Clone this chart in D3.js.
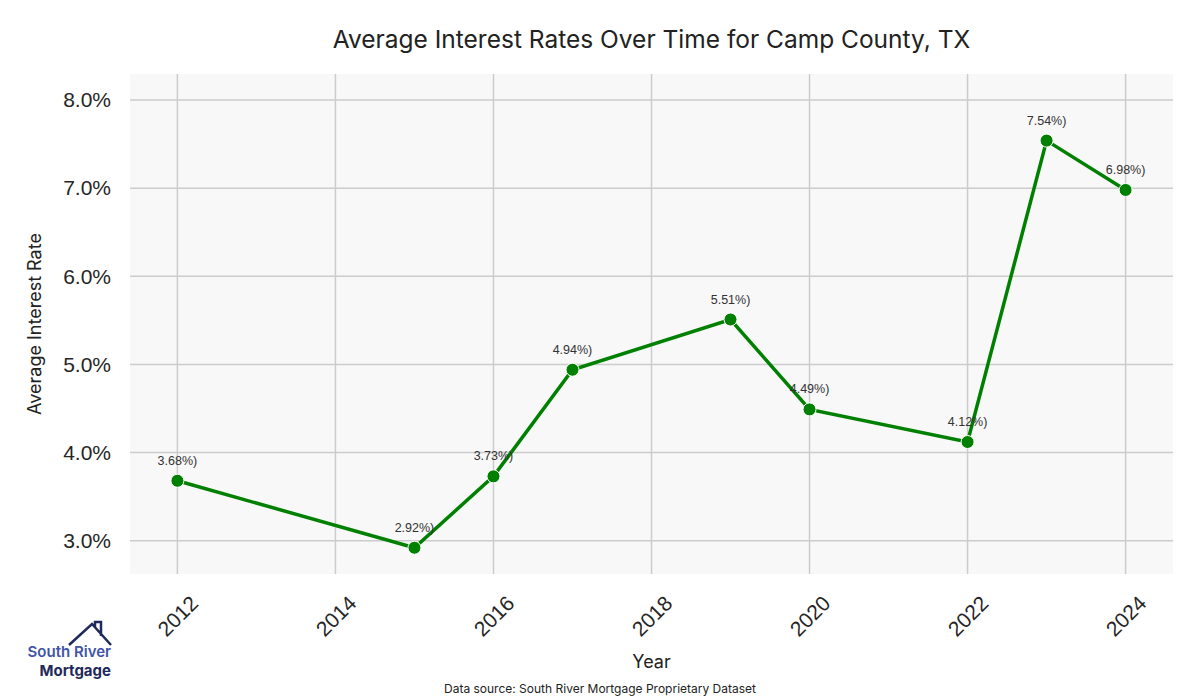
<!DOCTYPE html>
<html>
<head>
<meta charset="utf-8">
<script src="https://cdn.jsdelivr.net/npm/d3@7"></script>
<style>
  body { margin: 0; background: #fff; }
  svg { display: block; }
</style>
</head>
<body>
<div id="chart-area"></div>
<script>
var years = [2012, 2015, 2016, 2017, 2019, 2020, 2022, 2023, 2024];
var rates = [3.68, 2.92, 3.73, 4.94, 5.51, 4.49, 4.12, 7.54, 6.98];
var xTicks = [2012, 2014, 2016, 2018, 2020, 2022, 2024];
var yTicks = [3, 4, 5, 6, 7, 8];

var margin = {top: 74, right: 27, bottom: 126, left: 130};
var width = 1200 - margin.left - margin.right,
    height = 700 - margin.top - margin.bottom;

var data = years.map(function(d, i){ return {year: d, rate: rates[i]}; });

var x = d3.scaleLinear().domain([2011.4, 2024.6]).range([0, width]);
var y = d3.scaleLinear().domain([2.622, 8.296]).range([height, 0]);

var svg = d3.select("#chart-area").append("svg")
    .attr("width", 1200)
    .attr("height", 700);

var g = svg.append("g")
    .attr("transform", "translate(" + margin.left + "," + margin.top + ")");

g.append("rect")
    .attr("width", width)
    .attr("height", height)
    .attr("fill", "#f8f8f8");

// grid
g.selectAll(".vgrid").data(xTicks).enter().append("line")
    .attr("x1", function(d){ return x(d); })
    .attr("x2", function(d){ return x(d); })
    .attr("y1", 0).attr("y2", height)
    .attr("stroke", "#cccccc").attr("stroke-width", 1.5);

g.selectAll(".hgrid").data(yTicks).enter().append("line")
    .attr("y1", function(d){ return y(d); })
    .attr("y2", function(d){ return y(d); })
    .attr("x1", 0).attr("x2", width)
    .attr("stroke", "#cccccc").attr("stroke-width", 1.5);

// axes (ticks hidden, labels only)
var yAxis = g.append("g")
    .call(d3.axisLeft(y).tickValues(yTicks).tickSize(0).tickPadding(19)
      .tickFormat(function(d){ return d.toFixed(1) + "%"; }));
yAxis.select(".domain").remove();
yAxis.selectAll("text")
    .attr("font-family", "'Liberation Sans', Arial, sans-serif")
    .attr("font-size", "21px")
    .attr("fill", "#262626");

var xAxis = g.append("g")
    .attr("transform", "translate(0," + height + ")")
    .call(d3.axisBottom(x).tickValues(xTicks).tickSize(0).tickFormat(d3.format("d")));
xAxis.select(".domain").remove();
xAxis.selectAll("text")
    .attr("font-family", "'Liberation Sans', Arial, sans-serif")
    .attr("font-size", "21px")
    .attr("fill", "#262626")
    .attr("text-anchor", "middle")
    .attr("dy", "0.35em")
    .attr("y", 0)
    .attr("transform", "translate(0,42) rotate(-45)");

// line
var line = d3.line()
    .x(function(d){ return x(d.year); })
    .y(function(d){ return y(d.rate); });

g.append("path")
    .datum(data)
    .attr("d", line)
    .attr("fill", "none")
    .attr("stroke", "#008000")
    .attr("stroke-width", 3.5);

g.selectAll(".dot").data(data).enter().append("circle")
    .attr("cx", function(d){ return x(d.year); })
    .attr("cy", function(d){ return y(d.rate); })
    .attr("r", 6.5)
    .attr("fill", "#008000")
    .attr("stroke", "#ffffff")
    .attr("stroke-width", 1);

g.selectAll(".lbl").data(data).enter().append("text")
    .attr("x", function(d){ return x(d.year); })
    .attr("y", function(d){ return y(d.rate) - 16; })
    .attr("text-anchor", "middle")
    .attr("font-family", "'Liberation Sans', Arial, sans-serif")
    .attr("font-size", "12.5px")
    .attr("fill", "#333333")
    .text(function(d){ return d.rate.toFixed(2) + "%)"; });

// titles
svg.append("text")
    .attr("x", margin.left + width / 2)
    .attr("y", 48)
    .attr("text-anchor", "middle")
    .attr("font-family", "Inter, 'Noto Sans', sans-serif")
    .attr("font-size", "24.5px")
    .attr("fill", "#222")
    .text("Average Interest Rates Over Time for Camp County, TX");

svg.append("text")
    .attr("x", margin.left + width / 2)
    .attr("y", 668)
    .attr("text-anchor", "middle")
    .attr("font-family", "Inter, 'Noto Sans', sans-serif")
    .attr("font-size", "18px")
    .attr("fill", "#222")
    .text("Year");

svg.append("text")
    .attr("transform", "translate(41," + (margin.top + height / 2) + ") rotate(-90)")
    .attr("text-anchor", "middle")
    .attr("font-family", "Inter, 'Noto Sans', sans-serif")
    .attr("font-size", "18px")
    .attr("fill", "#222")
    .text("Average Interest Rate");

svg.append("text")
    .attr("x", 600)
    .attr("y", 693)
    .attr("text-anchor", "middle")
    .attr("font-family", "Inter, 'Noto Sans', sans-serif")
    .attr("font-size", "12px")
    .attr("fill", "#222")
    .text("Data source: South River Mortgage Proprietary Dataset");

// logo
var logo = svg.append("g");
logo.append("path")
    .attr("d", "M69,645 L92,624 L111,645 M95,627 L95,622 L101,622 L101,636")
    .attr("fill", "none")
    .attr("stroke", "#1f2a5c")
    .attr("stroke-width", 2.5)
    .attr("stroke-linejoin", "miter");
logo.append("text")
    .attr("x", 111).attr("y", 657)
    .attr("text-anchor", "end")
    .attr("font-family", "Inter, 'Noto Sans', sans-serif")
    .attr("font-weight", 600)
    .attr("font-size", "15px")
    .attr("fill", "#3f55a8")
    .text("South River");
logo.append("text")
    .attr("x", 111).attr("y", 676)
    .attr("text-anchor", "end")
    .attr("font-family", "Inter, 'Noto Sans', sans-serif")
    .attr("font-weight", 700)
    .attr("font-size", "15px")
    .attr("fill", "#1f2a5c")
    .text("Mortgage");
</script>
</body>
</html>
